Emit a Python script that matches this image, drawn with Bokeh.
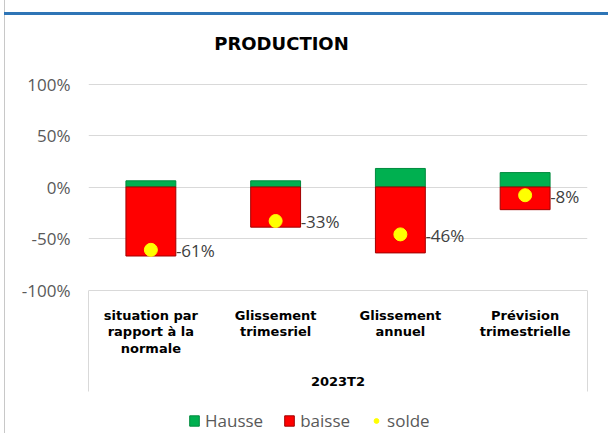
from bokeh.plotting import figure
from bokeh.models import (FactorRange, Range1d, FixedTicker, NumeralTickFormatter, LinearAxis,
                          LabelSet, ColumnDataSource, Legend, LegendItem, Label, InlineStyleSheet)
from bokeh.core.properties import value
from bokeh.embed import file_html
from bokeh.resources import INLINE

# ---- data ----
group_label = "2023T2"
categories = ["situation par\nrapport à la\nnormale", "Glissement\ntrimesriel",
              "Glissement\nannuel", "Prévision\ntrimestrielle"]
hausse = [0.06, 0.06, 0.18, 0.14]
baisse = [-0.67, -0.39, -0.64, -0.22]
solde = [-0.61, -0.33, -0.46, -0.08]
y_ticks = [-1.0, -0.5, 0.0, 0.5, 1.0]

labels = [f"{round(v * 100)}%" for v in solde]
src = ColumnDataSource(dict(x=categories, h=hausse, b=baisse, s=solde, lab=labels,
                            zero=[0] * len(categories)))

# ---- layout constants (pixels) ----
W, H = 608, 433
LEFT, RIGHT = 88, 21
ZERO_PX = 186.5          # y pixel of 0 %
PX_PER_UNIT = 103.0      # pixels per 100 %
BOX_BOTTOM_PX = 391
y_top = ZERO_PX / PX_PER_UNIT
y_bot = -(H - ZERO_PX) / PX_PER_UNIT
y_box = -(BOX_BOTTOM_PX - ZERO_PX) / PX_PER_UNIT

css = InlineStyleSheet(css="""
:host { position: relative; }
:host::after { content: ""; position: absolute; left: 4px; right: 0; top: 12px; height: 3px;
               background: #2e75b6; pointer-events: none; z-index: 10; }
:host::before { content: ""; position: absolute; left: 4px; top: 0; bottom: 0; width: 1px;
                background: #c8c8c8; pointer-events: none; z-index: 10; }
""")

p = figure(width=W, height=H, output_backend="svg", toolbar_location=None,
           x_range=FactorRange(*categories, range_padding=0, factor_padding=0),
           y_range=Range1d(y_bot, y_top),
           min_border_left=LEFT, min_border_right=RIGHT, min_border_top=0, min_border_bottom=0)
p.stylesheets = [css]
p.outline_line_color = None
p.background_fill_color = "white"
p.border_fill_color = "white"

r_h = p.vbar(x="x", top="h", bottom="zero", width=0.4, source=src,
             fill_color="#00b050", line_color="#008a3e", line_width=1)
r_b = p.vbar(x="x", top="zero", bottom="b", width=0.4, source=src,
             fill_color="#ff0000", line_color="#a00000", line_width=1)
r_s = p.scatter(x="x", y="s", size=13, source=src, fill_color="#ffff00", line_color="#ffff00")

p.add_layout(LabelSet(x="x", y="s", text="lab", source=src, x_offset=25, y_offset=-1,
                      text_align="left", text_baseline="middle",
                      text_font=value("Open Sans"), text_font_size=value("17px"),
                      text_color="#404040"))

# left: inner axis only draws the box's left edge; outer axis carries the labels
line_axis = p.left[0]
line_axis.bounds = (y_box, -1)
line_axis.ticker = FixedTicker(ticks=[])
line_axis.axis_line_color = "#d9d9d9"
line_axis.major_tick_line_color = None
line_axis.minor_tick_line_color = None
line_axis.major_label_standoff = 0

yax = LinearAxis(ticker=FixedTicker(ticks=y_ticks), formatter=NumeralTickFormatter(format="0%"),
                 axis_line_color=None, major_tick_line_color=None, minor_tick_line_color=None,
                 major_label_standoff=12, major_label_text_font="Open Sans",
                 major_label_text_font_size="17px", major_label_text_color="#595959")
p.add_layout(yax, "left")

rax = LinearAxis(bounds=(y_box, -1), ticker=FixedTicker(ticks=[]), axis_line_color="#d9d9d9",
                 major_tick_line_color=None, minor_tick_line_color=None, major_label_standoff=0)
p.add_layout(rax, "right")

p.ygrid.ticker = FixedTicker(ticks=y_ticks)
p.ygrid.grid_line_color = "#d9d9d9"
p.ygrid.grid_line_width = 1
p.xgrid.grid_line_color = None

xa = p.xaxis[0]
xa.axis_line_color = None
xa.major_tick_line_color = None
xa.minor_tick_line_color = None
xa.major_label_standoff = -132
xa.major_label_orientation = "horizontal"
xa.major_label_text_font = "DejaVu Sans"
xa.major_label_text_font_style = "bold"
xa.major_label_text_font_size = "13px"
xa.major_label_text_color = "black"
xa.major_label_text_line_height = 1.12
xa.axis_label = group_label
xa.axis_label_standoff = 15
xa.axis_label_text_font = "DejaVu Sans"
xa.axis_label_text_font_style = "bold"
xa.axis_label_text_font_size = "13px"
xa.axis_label_text_color = "black"

# title (inside the frame area)
p.add_layout(Label(x=(281 - LEFT) / ((W - LEFT - RIGHT) / len(categories)),
                   y=(ZERO_PX - 42.5) / PX_PER_UNIT,
                   text="PRODUCTION", text_align="center", text_baseline="middle",
                   text_font="DejaVu Sans", text_font_style="bold", text_font_size="18px",
                   text_color="black"))

legend = Legend(items=[LegendItem(label="Hausse", renderers=[r_h]),
                       LegendItem(label="baisse", renderers=[r_b]),
                       LegendItem(label="solde", renderers=[r_s])],
                orientation="horizontal", location=(100, 1),
                glyph_width=12, glyph_height=13, label_standoff=5, spacing=20,
                padding=0, margin=0, border_line_color=None, background_fill_alpha=0,
                label_text_font="Open Sans", label_text_font_size="17px",
                label_text_color="#595959", label_height=20)
p.add_layout(legend, "center")

open("out.html", "w").write(file_html(p, INLINE))
